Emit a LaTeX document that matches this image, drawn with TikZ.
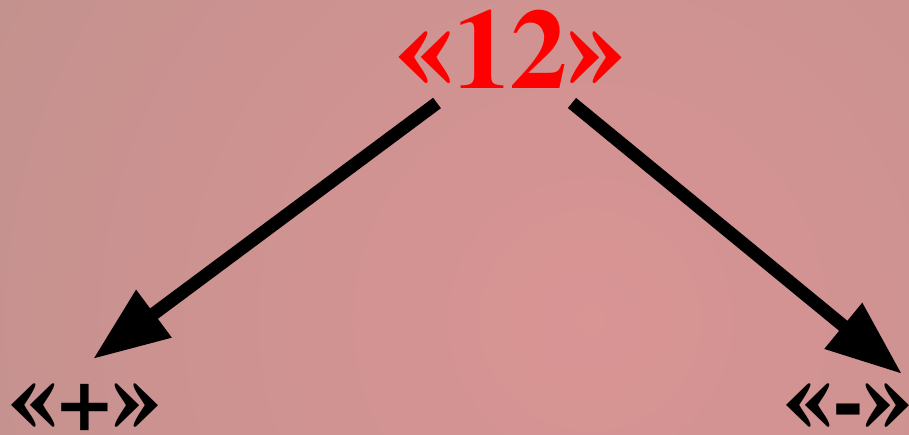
\documentclass[tikz,border=0pt]{standalone}
\usepackage{graphicx}
\usepackage{fontspec}
\setmainfont{texgyretermes}[Extension=.otf, UprightFont=*-regular, BoldFont=*-bold, ItalicFont=*-italic, BoldItalicFont=*-bolditalic]
\usetikzlibrary{arrows.meta}
\definecolor{bgin}{RGB}{217,148,148}
\definecolor{bgout}{RGB}{174,143,136}
\definecolor{titlered}{RGB}{255,0,0}
\pgfdeclareradialshading{bgshade}{\pgfpoint{0bp}{0bp}}{color(0bp)=(bgin); color(50bp)=(bgout)}
\newcommand{\mylq}{\scalebox{1}[1.2]{«}}
\newcommand{\myrq}{\scalebox{1}[1.2]{»}}
\tikzset{
  biglabel/.style={anchor=base, inner sep=0pt, text=titlered, font=\bfseries\fontsize{114}{114}\selectfont},
  sidelabel/.style={anchor=base, inner sep=0pt, text=black, font=\bfseries\fontsize{96}{96}\selectfont},
  bigarrow/.style={draw=black, line width=13pt, line cap=butt, -{Triangle[length=76pt,width=56pt]}}
}
\begin{document}
\begin{tikzpicture}[x=1pt,y=-1pt]
  \useasboundingbox (0,0) rectangle (909,435);
  \begin{scope}
    \clip (0,0) rectangle (909,435);
    \fill[bgout] (0,0) rectangle (909,435);
    \shade[shading=bgshade] (590,320) circle (680);
  \end{scope}
  \node[biglabel] (top) at (510,89) {\mylq12\myrq};
  \node[sidelabel] (plus) at (85,431) {\mylq+\myrq};
  \node[sidelabel] (minus) at (848,431) {\mylq-\myrq};
  \coordinate (ls) at (437,103);
  \coordinate (le) at (93,359);
  \coordinate (rs) at (572,103);
  \coordinate (re) at (902,374);
  \draw[bigarrow] (ls) -- (le);
  \draw[bigarrow] (rs) -- (re);
\end{tikzpicture}
\end{document}
